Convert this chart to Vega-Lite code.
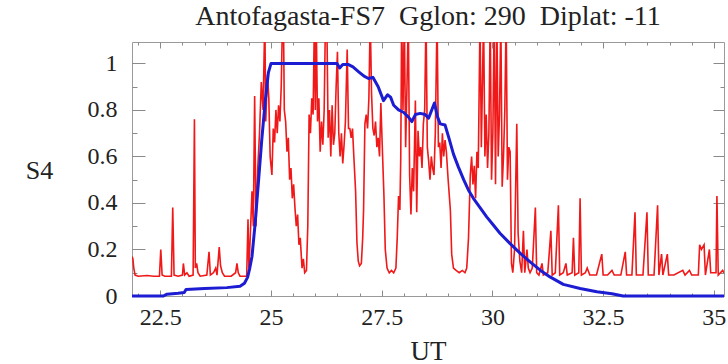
{
"$schema":"https://vega.github.io/schema/vega-lite/v6.json",
"autosize":"none",
"width":592,"height":254,
"padding":{"left":132,"top":42,"right":4,"bottom":68},
"background":"white",
"config":{"font":"Liberation Serif","view":{"stroke":"#9a9a9a","strokeWidth":1},"axis":{"grid":false,"domain":false,"tickColor":"#8a8a8a","tickWidth":1,"labelFlush":false,"labelOverlap":false}},
"title":{"text":"Antofagasta-FS7 \u00a0Gglon: 290 \u00a0Diplat: -11","fontSize":28,"font":"Liberation Serif","fontWeight":"normal","color":"#222","anchor":"middle","frame":"group","baseline":"alphabetic","offset":-11},
"datasets":{
"red":[{"t":21.86,"v":0.17},{"t":21.88,"v":0.16},{"t":21.9,"v":0.12},{"t":21.93,"v":0.09},{"t":22.0,"v":0.085},{"t":22.2,"v":0.088},{"t":22.35,"v":0.085},{"t":22.48,"v":0.085},{"t":22.51,"v":0.2},{"t":22.54,"v":0.09},{"t":22.6,"v":0.085},{"t":22.75,"v":0.085},{"t":22.78,"v":0.38},{"t":22.81,"v":0.09},{"t":22.9,"v":0.085},{"t":23.0,"v":0.09},{"t":23.02,"v":0.14},{"t":23.05,"v":0.09},{"t":23.1,"v":0.1},{"t":23.15,"v":0.085},{"t":23.24,"v":0.09},{"t":23.27,"v":0.76},{"t":23.29,"v":0.12},{"t":23.32,"v":0.14},{"t":23.35,"v":0.1},{"t":23.4,"v":0.085},{"t":23.55,"v":0.09},{"t":23.6,"v":0.19},{"t":23.63,"v":0.09},{"t":23.7,"v":0.1},{"t":23.75,"v":0.12},{"t":23.78,"v":0.09},{"t":23.83,"v":0.21},{"t":23.86,"v":0.13},{"t":23.9,"v":0.1},{"t":23.95,"v":0.085},{"t":24.1,"v":0.085},{"t":24.2,"v":0.1},{"t":24.23,"v":0.14},{"t":24.26,"v":0.1},{"t":24.3,"v":0.085},{"t":24.45,"v":0.085},{"t":24.48,"v":0.33},{"t":24.5,"v":0.12},{"t":24.53,"v":0.25},{"t":24.57,"v":0.45},{"t":24.6,"v":0.3},{"t":24.63,"v":0.86},{"t":24.66,"v":0.3},{"t":24.7,"v":0.55},{"t":24.74,"v":0.7},{"t":24.78,"v":0.92},{"t":24.82,"v":0.8},{"t":24.86,"v":1.2},{"t":24.88,"v":0.75},{"t":24.92,"v":0.95},{"t":24.95,"v":0.85},{"t":24.98,"v":0.6},{"t":25.02,"v":0.52},{"t":25.05,"v":0.72},{"t":25.08,"v":0.66},{"t":25.11,"v":0.8},{"t":25.14,"v":0.7},{"t":25.17,"v":0.82},{"t":25.2,"v":0.75},{"t":25.23,"v":0.9},{"t":25.26,"v":1.2},{"t":25.28,"v":1.2},{"t":25.3,"v":0.8},{"t":25.33,"v":0.75},{"t":25.36,"v":0.62},{"t":25.39,"v":0.68},{"t":25.42,"v":0.5},{"t":25.45,"v":0.55},{"t":25.48,"v":0.42},{"t":25.51,"v":0.48},{"t":25.54,"v":0.38},{"t":25.57,"v":0.3},{"t":25.6,"v":0.35},{"t":25.63,"v":0.22},{"t":25.66,"v":0.25},{"t":25.7,"v":0.12},{"t":25.73,"v":0.16},{"t":25.76,"v":0.1},{"t":25.8,"v":0.11},{"t":25.83,"v":0.3},{"t":25.86,"v":0.78},{"t":25.89,"v":0.7},{"t":25.92,"v":0.85},{"t":25.95,"v":0.78},{"t":25.98,"v":1.2},{"t":26.0,"v":0.8},{"t":26.02,"v":1.2},{"t":26.05,"v":0.75},{"t":26.08,"v":0.85},{"t":26.11,"v":0.62},{"t":26.14,"v":0.75},{"t":26.17,"v":0.65},{"t":26.2,"v":0.8},{"t":26.23,"v":1.2},{"t":26.26,"v":1.2},{"t":26.29,"v":0.68},{"t":26.32,"v":0.8},{"t":26.35,"v":0.6},{"t":26.38,"v":0.82},{"t":26.41,"v":0.65},{"t":26.44,"v":0.7},{"t":26.47,"v":0.9},{"t":26.5,"v":1.05},{"t":26.53,"v":0.7},{"t":26.56,"v":0.6},{"t":26.59,"v":0.7},{"t":26.62,"v":0.57},{"t":26.65,"v":0.65},{"t":26.68,"v":0.75},{"t":26.72,"v":1.06},{"t":26.75,"v":0.72},{"t":26.78,"v":0.72},{"t":26.81,"v":0.68},{"t":26.84,"v":0.72},{"t":26.87,"v":0.6},{"t":26.91,"v":0.45},{"t":26.94,"v":0.23},{"t":26.97,"v":0.15},{"t":27.0,"v":0.13},{"t":27.04,"v":0.14},{"t":27.07,"v":0.25},{"t":27.09,"v":0.37},{"t":27.12,"v":0.74},{"t":27.15,"v":0.78},{"t":27.18,"v":0.72},{"t":27.21,"v":0.85},{"t":27.24,"v":1.2},{"t":27.27,"v":0.87},{"t":27.3,"v":0.72},{"t":27.33,"v":0.69},{"t":27.36,"v":0.75},{"t":27.39,"v":0.64},{"t":27.42,"v":0.68},{"t":27.45,"v":0.6},{"t":27.48,"v":0.83},{"t":27.52,"v":0.6},{"t":27.55,"v":0.43},{"t":27.58,"v":0.2},{"t":27.62,"v":0.12},{"t":27.67,"v":0.1},{"t":27.72,"v":0.11},{"t":27.77,"v":0.1},{"t":27.82,"v":0.12},{"t":27.85,"v":0.25},{"t":27.88,"v":0.43},{"t":27.91,"v":0.37},{"t":27.93,"v":0.6},{"t":27.95,"v":1.2},{"t":27.98,"v":0.8},{"t":28.01,"v":1.2},{"t":28.04,"v":0.64},{"t":28.07,"v":0.9},{"t":28.1,"v":1.2},{"t":28.13,"v":0.52},{"t":28.16,"v":0.35},{"t":28.19,"v":0.55},{"t":28.22,"v":0.45},{"t":28.26,"v":0.84},{"t":28.29,"v":0.36},{"t":28.32,"v":0.71},{"t":28.35,"v":0.6},{"t":28.38,"v":0.64},{"t":28.41,"v":0.55},{"t":28.44,"v":0.74},{"t":28.47,"v":0.8},{"t":28.5,"v":1.2},{"t":28.53,"v":0.64},{"t":28.56,"v":0.58},{"t":28.59,"v":0.5},{"t":28.62,"v":0.6},{"t":28.65,"v":0.55},{"t":28.68,"v":0.52},{"t":28.71,"v":0.7},{"t":28.75,"v":1.2},{"t":28.78,"v":0.64},{"t":28.81,"v":0.66},{"t":28.84,"v":0.55},{"t":28.87,"v":0.7},{"t":28.9,"v":0.6},{"t":28.93,"v":0.67},{"t":28.96,"v":0.62},{"t":29.0,"v":0.5},{"t":29.05,"v":0.37},{"t":29.08,"v":0.18},{"t":29.12,"v":0.12},{"t":29.18,"v":0.11},{"t":29.25,"v":0.1},{"t":29.32,"v":0.11},{"t":29.38,"v":0.1},{"t":29.42,"v":0.12},{"t":29.46,"v":0.25},{"t":29.5,"v":0.52},{"t":29.53,"v":0.6},{"t":29.56,"v":0.48},{"t":29.59,"v":0.56},{"t":29.62,"v":0.42},{"t":29.65,"v":0.62},{"t":29.68,"v":0.55},{"t":29.72,"v":1.2},{"t":29.75,"v":0.64},{"t":29.8,"v":1.2},{"t":29.83,"v":0.6},{"t":29.86,"v":0.78},{"t":29.89,"v":0.55},{"t":29.92,"v":0.7},{"t":29.95,"v":1.2},{"t":29.98,"v":0.5},{"t":30.01,"v":0.7},{"t":30.04,"v":1.2},{"t":30.07,"v":0.48},{"t":30.1,"v":1.2},{"t":30.13,"v":0.6},{"t":30.16,"v":0.78},{"t":30.19,"v":1.2},{"t":30.22,"v":0.47},{"t":30.25,"v":0.6},{"t":30.28,"v":0.8},{"t":30.31,"v":1.2},{"t":30.34,"v":0.5},{"t":30.37,"v":0.64},{"t":30.4,"v":0.62},{"t":30.43,"v":0.14},{"t":30.46,"v":0.1},{"t":30.5,"v":0.2},{"t":30.55,"v":0.74},{"t":30.58,"v":0.27},{"t":30.62,"v":0.15},{"t":30.66,"v":0.1},{"t":30.7,"v":0.28},{"t":30.73,"v":0.1},{"t":30.78,"v":0.2},{"t":30.81,"v":0.12},{"t":30.85,"v":0.1},{"t":30.9,"v":0.12},{"t":30.97,"v":0.38},{"t":31.0,"v":0.1},{"t":31.05,"v":0.09},{"t":31.12,"v":0.14},{"t":31.15,"v":0.09},{"t":31.25,"v":0.1},{"t":31.32,"v":0.28},{"t":31.35,"v":0.09},{"t":31.42,"v":0.1},{"t":31.49,"v":0.39},{"t":31.52,"v":0.09},{"t":31.6,"v":0.1},{"t":31.66,"v":0.14},{"t":31.69,"v":0.09},{"t":31.8,"v":0.1},{"t":31.83,"v":0.25},{"t":31.86,"v":0.09},{"t":31.95,"v":0.1},{"t":31.98,"v":0.42},{"t":32.01,"v":0.09},{"t":32.1,"v":0.1},{"t":32.14,"v":0.12},{"t":32.2,"v":0.09},{"t":32.35,"v":0.09},{"t":32.47,"v":0.18},{"t":32.5,"v":0.09},{"t":32.6,"v":0.09},{"t":32.7,"v":0.11},{"t":32.75,"v":0.09},{"t":32.9,"v":0.09},{"t":33.0,"v":0.19},{"t":33.03,"v":0.09},{"t":33.15,"v":0.09},{"t":33.22,"v":0.36},{"t":33.25,"v":0.09},{"t":33.4,"v":0.09},{"t":33.49,"v":0.36},{"t":33.52,"v":0.09},{"t":33.65,"v":0.09},{"t":33.73,"v":0.39},{"t":33.76,"v":0.09},{"t":33.82,"v":0.18},{"t":33.85,"v":0.09},{"t":33.95,"v":0.18},{"t":33.98,"v":0.09},{"t":34.1,"v":0.09},{"t":34.3,"v":0.11},{"t":34.35,"v":0.09},{"t":34.45,"v":0.11},{"t":34.5,"v":0.09},{"t":34.65,"v":0.09},{"t":34.68,"v":0.22},{"t":34.72,"v":0.2},{"t":34.78,"v":0.22},{"t":34.81,"v":0.09},{"t":34.9,"v":0.2},{"t":34.93,"v":0.1},{"t":35.05,"v":0.1},{"t":35.07,"v":0.43},{"t":35.1,"v":0.09},{"t":35.2,"v":0.11},{"t":35.23,"v":0.1}],
"blue":[{"t":21.86,"v":0},{"t":22.57,"v":0},{"t":22.65,"v":0.008},{"t":22.9,"v":0.012},{"t":23.04,"v":0.015},{"t":23.08,"v":0.028},{"t":23.5,"v":0.032},{"t":24.0,"v":0.036},{"t":24.3,"v":0.042},{"t":24.4,"v":0.055},{"t":24.47,"v":0.08},{"t":24.52,"v":0.12},{"t":24.57,"v":0.17},{"t":24.64,"v":0.31},{"t":24.72,"v":0.5},{"t":24.79,"v":0.67},{"t":24.87,"v":0.84},{"t":24.94,"v":0.96},{"t":25.0,"v":1.0},{"t":26.49,"v":1.0},{"t":26.55,"v":0.98},{"t":26.62,"v":0.995},{"t":26.75,"v":0.995},{"t":26.85,"v":0.985},{"t":26.98,"v":0.964},{"t":27.1,"v":0.945},{"t":27.2,"v":0.935},{"t":27.3,"v":0.94},{"t":27.42,"v":0.9},{"t":27.54,"v":0.84},{"t":27.63,"v":0.865},{"t":27.7,"v":0.855},{"t":27.77,"v":0.82},{"t":27.88,"v":0.8},{"t":27.99,"v":0.79},{"t":28.1,"v":0.77},{"t":28.18,"v":0.75},{"t":28.26,"v":0.78},{"t":28.37,"v":0.785},{"t":28.48,"v":0.78},{"t":28.56,"v":0.765},{"t":28.63,"v":0.8},{"t":28.69,"v":0.83},{"t":28.76,"v":0.77},{"t":28.82,"v":0.74},{"t":28.93,"v":0.735},{"t":29.01,"v":0.684},{"t":29.12,"v":0.61},{"t":29.23,"v":0.555},{"t":29.35,"v":0.5},{"t":29.46,"v":0.455},{"t":29.57,"v":0.42},{"t":29.72,"v":0.38},{"t":29.87,"v":0.34},{"t":30.02,"v":0.305},{"t":30.17,"v":0.27},{"t":30.4,"v":0.225},{"t":30.63,"v":0.183},{"t":30.85,"v":0.147},{"t":31.08,"v":0.111},{"t":31.3,"v":0.082},{"t":31.6,"v":0.05},{"t":31.98,"v":0.032},{"t":32.36,"v":0.018},{"t":32.7,"v":0.01},{"t":32.95,"v":0},{"t":35.23,"v":0}]
},
"resolve":{"axis":{"x":"independent","y":"independent"}},
"layer":[
{"data":{"name":"red"},"mark":{"type":"line","color":"#f01818","strokeWidth":1.6,"clip":true},
 "encoding":{
  "x":{"field":"t","type":"quantitative","scale":{"domain":[21.86,35.23],"nice":false,"zero":false},
   "axis":{"orient":"bottom","values":[22.5,25,27.5,30,32.5,35],"format":".3~g","ticks":false,"labelPadding":9,"labelFontSize":24,"labelFont":"Liberation Serif","labelColor":"#222","title":"UT","titleFont":"Liberation Serif","titleFontSize":27,"titleFontWeight":"normal","titleColor":"#222","titleX":296,"titleY":55,"titleBaseline":"middle","titleAlign":"center"}},
  "y":{"field":"v","type":"quantitative","scale":{"domain":[0,1.092],"nice":false,"zero":false},
   "axis":{"orient":"left","values":[0,0.2,0.4,0.6,0.8,1],"format":".3~g","ticks":false,"labelPadding":15,"labelFontSize":24,"labelFont":"Liberation Serif","labelColor":"#222","title":"S4","titleFont":"Liberation Serif","titleFontSize":26,"titleFontWeight":"normal","titleColor":"#222","titleAngle":0,"titleX":-93,"titleY":128,"titleBaseline":"middle","titleAlign":"center"}}}},
{"data":{"name":"blue"},"mark":{"type":"line","color":"#1c1cd2","strokeWidth":3,"strokeJoin":"round"},
 "encoding":{
  "x":{"field":"t","type":"quantitative","axis":{"orient":"top","values":[22.5,25,27.5,30,32.5,35],"labels":false,"tickSize":-6,"title":null}},
  "y":{"field":"v","type":"quantitative","axis":{"orient":"right","values":[0,0.2,0.4,0.6,0.8,1],"labels":false,"tickSize":-11,"title":null}}}},
{"data":{"values":[]},"mark":{"type":"point","opacity":0},
 "encoding":{
  "x":{"field":"t","type":"quantitative","axis":{"orient":"bottom","values":[22.5,25,27.5,30,32.5,35],"labels":false,"tickSize":-6,"title":null}},
  "y":{"field":"v","type":"quantitative","axis":{"orient":"left","values":[0,0.2,0.4,0.6,0.8,1],"labels":false,"tickSize":-13,"title":null}}}},
{"data":{"values":[]},"mark":{"type":"point","opacity":0},
 "encoding":{
  "x":{"field":"t","type":"quantitative","axis":{"orient":"bottom","values":[22,22.5,23,23.5,24,24.5,25,25.5,26,26.5,27,27.5,28,28.5,29,29.5,30,30.5,31,31.5,32,32.5,33,33.5,34,34.5,35],"labels":false,"tickSize":-3,"title":null}},
  "y":{"field":"v","type":"quantitative","axis":{"orient":"left","values":[0.1,0.2,0.3,0.4,0.5,0.6,0.7,0.8,0.9,1.0],"labels":false,"tickSize":-5,"title":null}}}},
{"data":{"values":[]},"mark":{"type":"point","opacity":0},
 "encoding":{
  "x":{"field":"t","type":"quantitative","axis":{"orient":"top","values":[22,22.5,23,23.5,24,24.5,25,25.5,26,26.5,27,27.5,28,28.5,29,29.5,30,30.5,31,31.5,32,32.5,33,33.5,34,34.5,35],"labels":false,"tickSize":-3,"title":null}},
  "y":{"field":"v","type":"quantitative","axis":{"orient":"right","values":[0.1,0.2,0.3,0.4,0.5,0.6,0.7,0.8,0.9,1.0],"labels":false,"tickSize":-4,"title":null}}}}
]
}
